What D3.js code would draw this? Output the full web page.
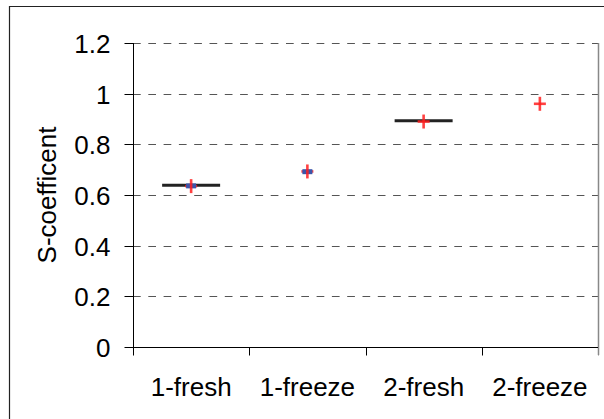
<!DOCTYPE html>
<html><head><meta charset="utf-8">
<script src="https://cdn.jsdelivr.net/npm/d3@7"></script>
<style>
html,body{margin:0;padding:0;background:#fff;}
svg{display:block;font-family:"Liberation Sans",Arial,sans-serif;}
</style></head>
<body>
<svg id="chart" width="604" height="419"></svg>
<script>
const categories = ["1-fresh", "1-freeze", "2-fresh", "2-freeze"];
const redValues = [0.635, 0.693, 0.89, 0.96];
const blueValues = [0.636, 0.692, null, null];
const meanValues = [0.638, null, 0.893, null];
const yTicks = [0, 0.2, 0.4, 0.6, 0.8, 1.0, 1.2];
const yTickLabels = ["0", "0.2", "0.4", "0.6", "0.8", "1", "1.2"];
const yTitle = "S-coefficent";

const svg = d3.select("#chart");
const L = 133, R = 598, T = 43, B = 347;
const FONT = "Liberation Sans, Arial, sans-serif";

// outer chart border (extends past canvas right/bottom)
svg.append("path").attr("d", "M604,6.5H9.5V419")
  .attr("fill", "none").attr("stroke", "#222").attr("stroke-width", 1.2);

const x = d3.scaleBand().domain(categories).range([L, R]).padding(0);
const y = d3.scaleLinear().domain([0, 1.2]).range([B, T]);

// gridlines
svg.append("g").selectAll("line").data(yTicks.filter(d => d > 0)).join("line")
  .attr("x1", L).attr("x2", R)
  .attr("y1", d => Math.round(y(d)) + 0.5).attr("y2", d => Math.round(y(d)) + 0.5)
  .attr("stroke", "#555").attr("stroke-width", 1.2).attr("stroke-dasharray", "7.7,7.6");

// right plot border
svg.append("line").attr("x1", R + 0.5).attr("x2", R + 0.5).attr("y1", T).attr("y2", B + 8)
  .attr("stroke", "#888").attr("stroke-width", 1.5);

// y axis
const yAxis = d3.axisLeft(y).tickValues(yTicks).tickSize(9).tickPadding(14)
  .tickFormat((d, i) => yTickLabels[i]);
const gy = svg.append("g").attr("transform", `translate(${L + 0.5},0)`).call(yAxis);
gy.select(".domain").attr("stroke", "#000").attr("d", `M0,${T}V${B + 0.5}`);
gy.selectAll(".tick line").attr("stroke", "#000");
gy.selectAll(".tick").attr("transform", d => `translate(0,${Math.round(y(d)) + 0.5})`);
gy.selectAll("text").attr("font-size", 26).attr("font-family", FONT)
  .attr("fill", "#000").attr("dy", "0.36em");

// x axis
const xAxis = d3.axisBottom(x).tickSize(0).tickPadding(0);
const gx = svg.append("g").attr("transform", `translate(0,${B + 0.5})`).call(xAxis);
gx.select(".domain").attr("stroke", "#000").attr("d", `M${L},0H${R}`);
gx.selectAll(".tick line").remove();
gx.selectAll("text").attr("font-size", 26).attr("font-family", FONT)
  .attr("fill", "#000").attr("y", 48.5).attr("dy", 0);
const bounds = categories.map(c => x(c)).concat([x(categories[categories.length - 1]) + x.bandwidth()]);
gx.append("g").selectAll("line").data(bounds).join("line")
  .attr("x1", d => Math.round(d) + 0.5).attr("x2", d => Math.round(d) + 0.5)
  .attr("y1", 0).attr("y2", 8)
  .attr("stroke", (d, i) => i === bounds.length - 1 ? "#888" : "#000");

const cx = c => x(c) + x.bandwidth() / 2;

// mean lines
svg.append("g").selectAll("line")
  .data(categories.map((c, i) => ({ c, v: meanValues[i] })).filter(d => d.v != null))
  .join("line")
  .attr("x1", d => cx(d.c) - 29).attr("x2", d => cx(d.c) + 29)
  .attr("y1", d => y(d.v)).attr("y2", d => y(d.v))
  .attr("stroke", "#222").attr("stroke-width", 3);

const reds = categories.map((c, i) => ({ c, v: redValues[i] }));
const blues = categories.map((c, i) => ({ c, v: blueValues[i] })).filter(d => d.v != null);

// red horizontal arms (under blue)
svg.append("g").selectAll("line").data(reds).join("line")
  .attr("x1", d => cx(d.c) - 6).attr("x2", d => cx(d.c) + 6)
  .attr("y1", d => y(d.v)).attr("y2", d => y(d.v))
  .attr("stroke", "#ff2020").attr("stroke-width", 2.6).attr("stroke-opacity", 0.85);

// blue markers
svg.append("g").selectAll("rect").data(blues).join("rect")
  .attr("x", d => cx(d.c) - 5).attr("y", d => y(d.v) - 2.5)
  .attr("width", 10).attr("height", 5)
  .attr("fill", "#3b55aa");

// red vertical arms (on top)
svg.append("g").selectAll("line").data(reds).join("line")
  .attr("x1", d => cx(d.c)).attr("x2", d => cx(d.c))
  .attr("y1", d => y(d.v) - 7).attr("y2", d => y(d.v) + 7)
  .attr("stroke", "#ff2020").attr("stroke-width", 2.6).attr("stroke-opacity", 0.85);

// y title
svg.append("text").attr("transform", `translate(56,${(T + B) / 2}) rotate(-90)`)
  .attr("text-anchor", "middle").attr("font-size", 26).attr("font-family", FONT).attr("fill", "#000")
  .text(yTitle);
</script>
</body></html>
